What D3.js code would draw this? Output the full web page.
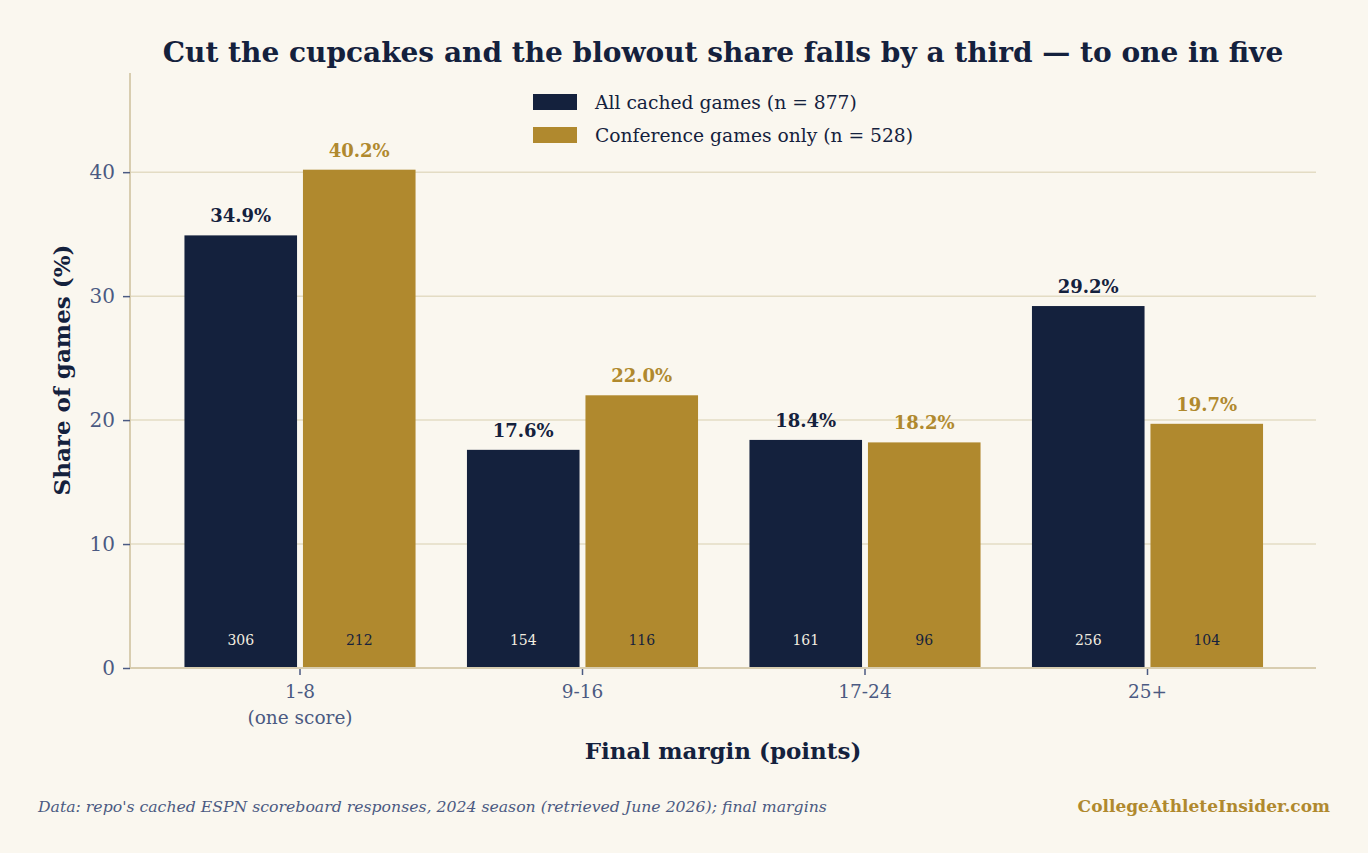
<!DOCTYPE html>
<html>
<head>
<meta charset="utf-8">
<script src="https://cdn.jsdelivr.net/npm/d3@7"></script>
<style>
  body { margin: 0; background: #faf7ef; }
  svg { display: block; }
</style>
</head>
<body>
<svg id="chart" width="1368" height="853"></svg>
<script>
  // data
  var categories = ['1-8', '9-16', '17-24', '25+'];
  var catLabels = [['1-8', '(one score)'], ['9-16'], ['17-24'], ['25+']];
  var seriesNames = ['All cached games (n = 877)', 'Conference games only (n = 528)'];
  var allShare = [34.9, 17.6, 18.4, 29.2];
  var confShare = [40.2, 22.0, 18.2, 19.7];
  var allCount = [306, 154, 161, 256];
  var confCount = [212, 116, 96, 104];
  var yTicks = [0, 10, 20, 30, 40];

(function() {
  'use strict';

  var NAVY = '#14213d', GOLD = '#b0892e', SLATE = '#4b5a82', GRID = '#e3dcc4', AXIS = '#d8cdb0';
  var FONT = "Georgia, 'DejaVu Serif', serif";

  var svg = d3.select('#chart').style('font-family', FONT);
  svg.append('rect').attr('width', 1368).attr('height', 853).attr('fill', '#faf7ef');

  var left = 130, right = 1316, plotTop = 73, bottom = 668;

  var y = d3.scaleLinear().domain([0, 48]).range([bottom, plotTop]);
  var x = d3.scaleBand().domain(categories).range([158.75, 1288.75]);
  var inner = d3.scaleBand().domain([0, 1]).range([0, x.bandwidth() * 0.818]).paddingInner(0.05);
  var off = (x.bandwidth() - x.bandwidth() * 0.818) / 2;

  // grid
  svg.append('g').selectAll('line').data(yTicks.slice(1)).enter().append('line')
    .attr('x1', left).attr('x2', right)
    .attr('y1', function(d) { return y(d); }).attr('y2', function(d) { return y(d); })
    .attr('stroke', GRID).attr('stroke-width', 1.5);

  // y axis
  var yAxis = svg.append('g').attr('transform', 'translate(' + left + ',0)')
    .call(d3.axisLeft(y).tickValues(yTicks).tickSize(7).tickPadding(8));
  yAxis.select('.domain').attr('stroke', AXIS).attr('stroke-width', 2).attr('d', 'M0,' + bottom + 'V' + plotTop);
  yAxis.selectAll('.tick line').attr('stroke', SLATE).attr('stroke-width', 1.5);
  yAxis.selectAll('.tick text').attr('fill', SLATE).style('font-size', '20px').style('font-family', FONT);

  // bars
  var series = [
    { share: allShare, count: allCount, color: NAVY, countColor: '#f3eee0' },
    { share: confShare, count: confCount, color: GOLD, countColor: NAVY }
  ];
  series.forEach(function(s, si) {
    var g = svg.append('g');
    var bx = function(d, i) { return x(categories[i]) + off + inner(si); };
    g.selectAll('rect').data(s.share).enter().append('rect')
      .attr('x', bx).attr('width', inner.bandwidth())
      .attr('y', function(d) { return y(d); })
      .attr('height', function(d) { return y(0) - y(d); })
      .attr('fill', s.color);
    g.selectAll('text.val').data(s.share).enter().append('text').attr('class', 'val')
      .attr('x', function(d, i) { return bx(d, i) + inner.bandwidth() / 2; })
      .attr('y', function(d) { return y(d) - 13; })
      .attr('text-anchor', 'middle').attr('fill', s.color)
      .style('font-size', '18px').style('font-weight', 'bold')
      .text(function(d) { return d.toFixed(1) + '%'; });
    g.selectAll('text.cnt').data(s.count).enter().append('text').attr('class', 'cnt')
      .attr('x', function(d, i) { return bx(d, i) + inner.bandwidth() / 2; })
      .attr('y', y(0) - 23)
      .attr('text-anchor', 'middle').attr('fill', s.countColor)
      .style('font-size', '14px')
      .text(function(d) { return d; });
  });

  // x axis
  svg.append('line').attr('x1', left).attr('x2', right).attr('y1', bottom).attr('y2', bottom)
    .attr('stroke', AXIS).attr('stroke-width', 2);
  var xt = svg.append('g').selectAll('g').data(categories).enter().append('g')
    .attr('transform', function(d) { return 'translate(' + (x(d) + x.bandwidth() / 2) + ',' + bottom + ')'; });
  xt.append('line').attr('y1', 1).attr('y2', 7).attr('stroke', SLATE).attr('stroke-width', 1.5);
  xt.each(function(d, i) {
    d3.select(this).selectAll('text').data(catLabels[i]).enter().append('text')
      .attr('y', function(t, j) { return 30 + j * 26; })
      .attr('text-anchor', 'middle').attr('fill', SLATE).style('font-size', '18.5px')
      .text(function(t) { return t; });
  });

  // axis titles
  svg.append('text').attr('x', 723).attr('y', 759).attr('text-anchor', 'middle')
    .attr('fill', NAVY).style('font-size', '23px').style('font-weight', 'bold')
    .text('Final margin (points)');
  svg.append('text').attr('transform', 'translate(70,370) rotate(-90)').attr('text-anchor', 'middle')
    .attr('fill', NAVY).style('font-size', '23px').style('font-weight', 'bold')
    .text('Share of games (%)');

  // title
  svg.append('text').attr('x', 723).attr('y', 62).attr('text-anchor', 'middle')
    .attr('fill', NAVY).style('font-size', '28px').style('font-weight', 'bold')
    .text('Cut the cupcakes and the blowout share falls by a third \u2014 to one in five');

  // legend
  var lg = svg.append('g').selectAll('g').data(seriesNames).enter().append('g')
    .attr('transform', function(d, i) { return 'translate(533,' + (94 + i * 33) + ')'; });
  lg.append('rect').attr('width', 44).attr('height', 16)
    .attr('fill', function(d, i) { return i ? GOLD : NAVY; });
  lg.append('text').attr('x', 62).attr('y', 15).attr('fill', NAVY).style('font-size', '18.7px')
    .text(function(d) { return d; });

  // footer
  svg.append('text').attr('x', 38).attr('y', 812).attr('fill', SLATE)
    .style('font-size', '15.7px').style('font-style', 'italic')
    .text("Data: repo's cached ESPN scoreboard responses, 2024 season (retrieved June 2026); final margins");
  svg.append('text').attr('x', 1330).attr('y', 812).attr('text-anchor', 'end').attr('fill', GOLD)
    .style('font-size', '17px').style('font-weight', 'bold')
    .text('CollegeAthleteInsider.com');
}());
</script>
</body>
</html>
